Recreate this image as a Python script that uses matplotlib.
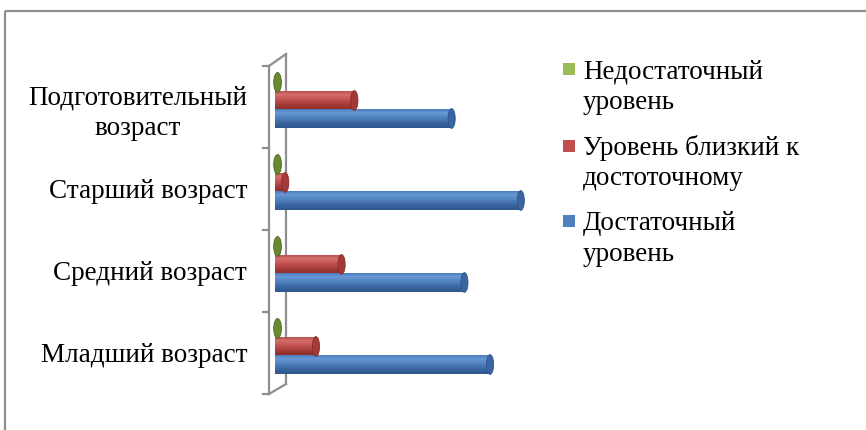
import numpy as np
import matplotlib
matplotlib.use('Agg')
import matplotlib.pyplot as plt
from matplotlib.patches import Ellipse, Rectangle
from matplotlib.colors import LinearSegmentedColormap

# ---- data (percent) ----
categories = ['Младший возраст', 'Средний возраст', 'Старший возраст',
              'Подготовительный\nвозраст']
series_names = ['Недостаточный\nуровень', 'Уровень близкий к\nдостоточному',
                'Достаточный\nуровень']
insufficient = [0, 0, 0, 0]
near_sufficient = [16, 26, 4, 31]
sufficient = [84, 74, 96, 69]

W, H = 866, 430
fig = plt.figure(figsize=(W / 100, H / 100), dpi=100)
plt.rcParams['font.family'] = ['Liberation Serif', 'DejaVu Serif']
FS = 19.5


def fx(px):
    return px / W


def fy(py):
    return 1 - py / H


# overlay axes in pixel coordinates for frame / wall decoration
ov = fig.add_axes([0, 0, 1, 1], zorder=0)
ov.set_xlim(0, W)
ov.set_ylim(H, 0)
ov.axis('off')

grey = '#8e8e8e'
# outer chart border (extends past image on right/bottom)
ov.plot([4.5, W + 5], [10.5, 10.5], color=grey, lw=1.6, solid_capstyle='butt')
ov.plot([4.5, 4.5], [10.5, H + 5], color=grey, lw=1.6, solid_capstyle='butt')

# 3D wall of the category axis
ov.plot([269, 269], [66, 394], color=grey, lw=1.6)
ov.plot([286, 286], [54, 384], color=grey, lw=1.6)
ov.plot([269, 286], [66, 54], color=grey, lw=1.6)
ov.plot([269, 286], [394, 384], color=grey, lw=1.6)
for ty in np.linspace(66, 394, 5):
    ov.plot([263, 269], [ty, ty], color=grey, lw=1.6)

# main axes
ax = fig.add_axes([fx(275), fy(394), (531 - 275) / W, (394 - 66) / H], zorder=2)
ax.patch.set_alpha(0)

series = [
    (insufficient, 0.30, ['#4a641c', '#6b8a2f', '#9bbb59', '#7f9f40', '#4f6b1f'], 1.0, 3.0),
    (near_sufficient, 0.08, ['#8a2c2a', '#a23a37', '#c0504d', '#d66f6b', '#b04744'], 0, 2.8),
    (sufficient, -0.14, ['#2e578f', '#3a659f', '#4f81bd', '#6799d6', '#4473b2'], 0, 2.8),
]
bar_h = 0.24
grad = np.linspace(0, 1, 64).reshape(-1, 1)
ypos = np.arange(len(categories))

for vals, off, cols, shift, cap_w in series:
    cmap = LinearSegmentedColormap.from_list('c', list(zip([0, 0.25, 0.5, 0.78, 1.0], cols)))
    bars = ax.barh(ypos + off, vals, height=bar_h, color='none', edgecolor='none')
    for rect in bars:
        x0, y0 = rect.get_x(), rect.get_y()
        w, hh = rect.get_width(), rect.get_height()
        if w > 0:
            im = ax.imshow(grad, extent=[x0, x0 + w, y0, y0 + hh], cmap=cmap,
                           aspect='auto', origin='lower', interpolation='bilinear', zorder=2)
            im.set_clip_path(rect)
        cap = Ellipse((x0 + w + shift, y0 + hh / 2), width=cap_w, height=hh,
                      facecolor=cols[1], edgecolor=cols[0], lw=0.6, zorder=3,
                      clip_on=False)
        ax.add_patch(cap)

ax.set_xlim(0, 100)
ax.set_ylim(-0.5, 3.5)
for s in ax.spines.values():
    s.set_visible(False)
ax.set_xticks([])
ax.set_yticks(ypos)
ax.set_yticklabels(categories, fontsize=FS)
ax.tick_params(axis='y', length=0, pad=20)
for lbl in ax.get_yticklabels():
    lbl.set_multialignment('center')
    lbl.set_linespacing(1.3)

# legend (manual, markers aligned with first text line)
leg_colors = ['#9bbb59', '#c0504d', '#4f81bd']
leg_centers = [87, 163, 239]
leg_first = [69, 146, 221]
for name, c, cy, my in zip(series_names, leg_colors, leg_centers, leg_first):
    ov.add_patch(Rectangle((563, my - 6), 12, 12, facecolor=c, edgecolor='none'))
    ov.text(583, cy, name, fontsize=FS, va='center', ha='left', linespacing=1.28)

fig.savefig('out.png', dpi=100)
